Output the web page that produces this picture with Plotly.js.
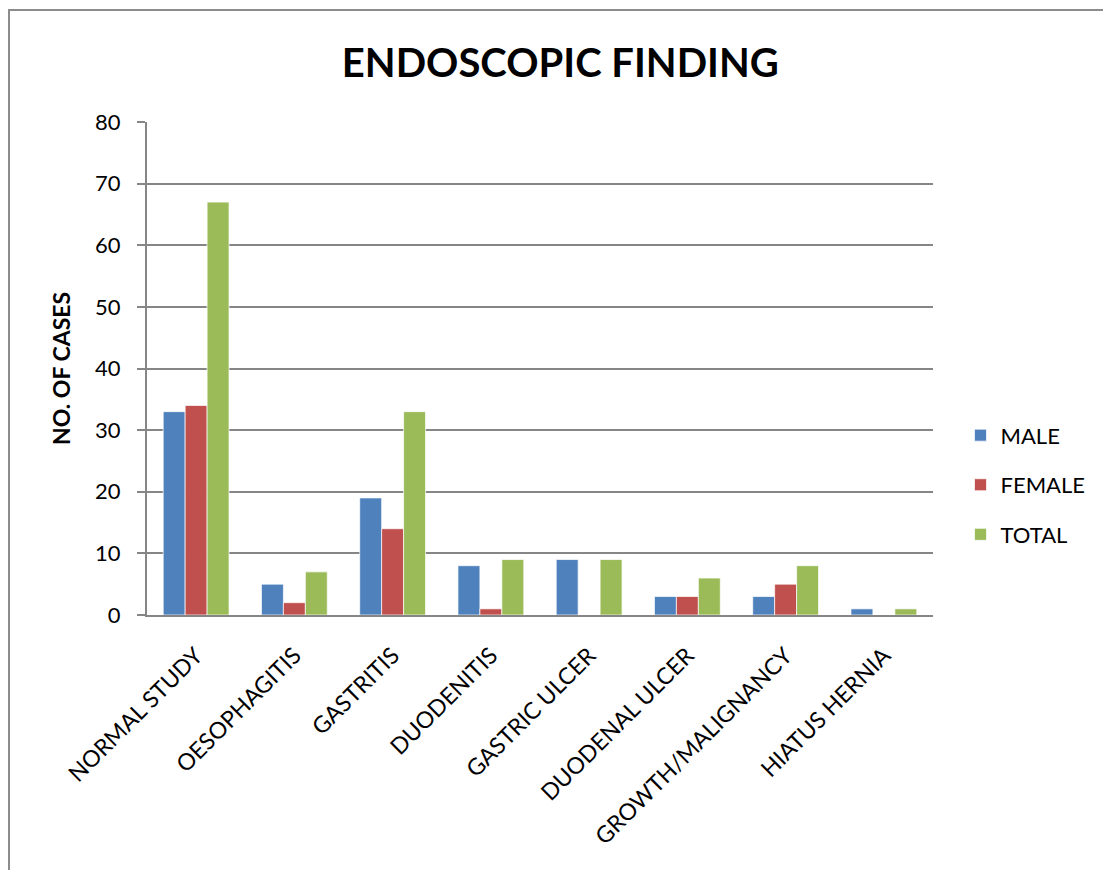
<!DOCTYPE html>
<html>
<head>
<meta charset="utf-8">
<script src="https://cdn.plot.ly/plotly-3.0.1.min.js"></script>
<style>
  html, body { margin: 0; padding: 0; overflow: hidden; background: #fff; }
  #wrap { position: relative; width: 1103px; height: 870px; overflow: hidden; }
  #frame { position: absolute; left: 8px; top: 9px; width: 1300px; height: 1100px;
           border: 2px solid #8c8c8c; box-sizing: border-box; pointer-events: none; }
  #chart { position: absolute; left: 0; top: 0; width: 1103px; height: 870px; }
</style>
</head>
<body>
<div id="wrap">
  <div id="chart"></div>
  <div id="frame"></div>
</div>
<script>
// Endoscopic findings by sex
const findings = ["NORMAL STUDY", "OESOPHAGITIS", "GASTRITIS", "DUODENITIS",
                  "GASTRIC ULCER", "DUODENAL ULCER", "GROWTH/MALIGNANCY", "HIATUS HERNIA"];
const male   = [33, 5, 19, 8, 9, 3, 3, 1];
const female = [34, 2, 14, 1, 0, 3, 5, 0];
const total  = [67, 7, 33, 9, 9, 6, 8, 1];
const yTicks = [0, 10, 20, 30, 40, 50, 60, 70, 80];

const font = "Lato, 'Open Sans', sans-serif";
const barLine = { color: "rgba(255,255,255,0.7)", width: 1 };

const traces = [
  { name: "MALE",   y: male,   color: "#4F81BD" },
  { name: "FEMALE", y: female, color: "#C0504D" },
  { name: "TOTAL",  y: total,  color: "#9BBB59" }
].map(s => ({
  type: "bar",
  x: findings,
  y: s.y,
  name: s.name,
  legendgroup: s.name,
  marker: { color: s.color, line: barLine },
  hoverinfo: "x+y+name"
}));

const layout = {
  width: 1103,
  height: 870,
  margin: { l: 147, r: 168, t: 122, b: 255 },
  paper_bgcolor: "#fff",
  plot_bgcolor: "#fff",
  font: { family: font, size: 22, color: "#000" },
  title: {
    text: "<b>ENDOSCOPIC FINDING</b>",
    font: { family: font, size: 40, color: "#000" },
    x: 0.508, xanchor: "center",
    y: 0.928, yanchor: "middle"
  },
  barmode: "group",
  bargap: 0.33,
  bargroupgap: 0,
  xaxis: {
    type: "category",
    automargin: false,
    tickangle: -45,
    ticklabelstandoff: 16,
    tickfont: { family: font, size: 23, color: "#000" },
    showgrid: false,
    showline: true,
    linecolor: "#868686",
    linewidth: 2,
    ticks: "",
    zeroline: false
  },
  yaxis: {
    range: [0, 80],
    automargin: false,
    tickvals: yTicks,
    ticktext: yTicks.map(String),
    ticks: "outside",
    ticklen: 8,
    tickwidth: 2,
    tickcolor: "#868686",
    ticklabelstandoff: 12,
    tickfont: { family: font, size: 22, color: "#000" },
    showgrid: true,
    gridcolor: "#868686",
    gridwidth: 2,
    showline: true,
    linecolor: "#868686",
    linewidth: 2,
    zeroline: false,
    title: {
      text: "<b>NO. OF CASES</b>",
      font: { family: font, size: 23, color: "#000" },
      standoff: 18
    }
  },
  legend: {
    x: 1.035, xanchor: "left",
    y: 0.264, yanchor: "middle",
    traceorder: "grouped",
    tracegroupgap: 18,
    font: { family: font, size: 22, color: "#000" },
    bgcolor: "rgba(0,0,0,0)",
    itemclick: false
  },
  showlegend: true
};

Plotly.newPlot("chart", traces, layout, { displayModeBar: false, staticPlot: true });
</script>
</body>
</html>
